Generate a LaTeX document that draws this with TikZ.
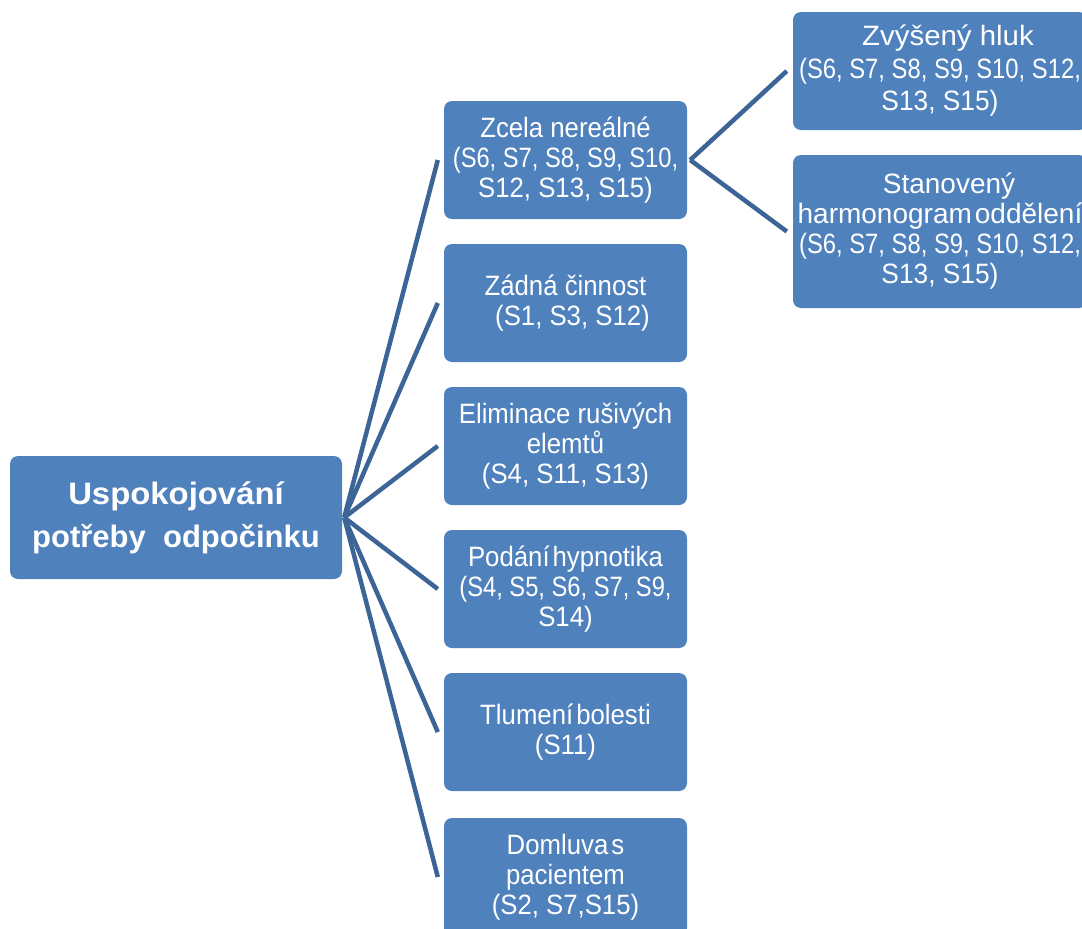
\documentclass[tikz,border=0pt]{standalone}
\usepackage{graphicx}
\usepackage{fontspec}
\setmainfont{Liberation Sans}
\newfontfamily\midfont{Liberation Sans}[FakeStretch=0.92]
\definecolor{boxblue}{RGB}{79,129,189}
\definecolor{linkblue}{RGB}{60,100,150}
% narrow word gap and horizontal squeeze/stretch of a single line
\newcommand{\tsp}{\hspace{3pt}}
\newcommand{\hs}[2]{\scalebox{#1}[1]{#2}}
\begin{document}
\begin{tikzpicture}[x=1pt,y=-1pt,
  box/.style={rectangle, rounded corners=8pt, fill=boxblue, text=white, align=center, inner sep=0pt},
  mid/.style={box, minimum width=243pt, minimum height=118pt, font=\midfont\fontsize{28}{30}\selectfont},
  side/.style={box, minimum width=294pt, font=\fontsize{28}{32.5}\selectfont},
  link/.style={draw=linkblue, line width=4.5pt}]
\clip (0,0) rectangle (1082,929);
\fill[white] (0,0) rectangle (1082,929);

% root
\node[box, minimum width=332pt, minimum height=123pt,
      font=\bfseries\fontsize{31}{43}\selectfont] (root) at (176,517.5)
      {\hs{1.06}{Uspokojování}\\potřeby\ \ odpočinku};

% second level
\node[mid] (c1) at (565.5,160) {Zcela nereálné\\\hs{0.92}{(S6, S7, S8, S9, S10,}\\S12, S13, S15)};
\node[mid] (c2) at (565.5,303) {Zádná činnost\\\hspace{14pt}(S1, S3, S12)};
\node[mid] (c3) at (565.5,446) {Eliminace rušivých\\elemtů\\(S4, S11, S13)};
\node[mid] (c4) at (565.5,589) {Podání\tsp hypnotika\\\hs{0.92}{(S4, S5, S6, S7, S9,}\\S14)};
\node[mid] (c5) at (565.5,732) {Tlumení\tsp bolesti\\(S11)};
\node[mid] (c6) at (565.5,877) {Domluva\tsp s\\pacientem\\(S2, S7,S15)};

% third level
\node[side, minimum height=118pt] (r1) at (940,71)
  {\hspace{16pt}\hs{1.05}{Zvýšený hluk}\\\hs{0.85}{(S6, S7, S8, S9, S10, S12,}\\\hs{0.94}{S13, S15)}};
\node[side, minimum height=153pt, font=\fontsize{28}{30}\selectfont] (r2) at (940,231.5)
  {\hspace{18pt}Stanovený\\harmonogram\tsp oddělení\\\hs{0.85}{(S6, S7, S8, S9, S10, S12,}\\\hs{0.94}{S13, S15)}};

% connectors
\foreach \c in {c1,c2,c3,c4,c5,c6}
  \draw[link] ([xshift=2pt]root.east) -- ([xshift=-6pt]\c.west);
\foreach \r in {r1,r2}
  \draw[link] ([xshift=3pt]c1.east) -- ([xshift=-6pt]\r.west);
\end{tikzpicture}
\end{document}
